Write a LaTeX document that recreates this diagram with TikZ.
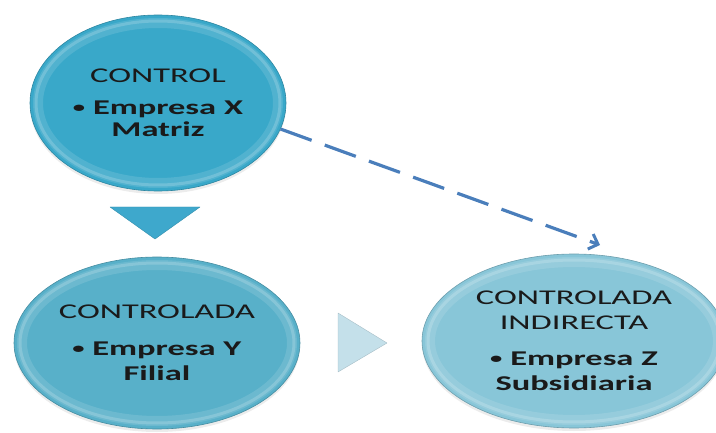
\documentclass[tikz,border=0pt]{standalone}
\usepackage{fontspec}
\setmainfont{Carlito}[FakeStretch=1.64]
\usetikzlibrary{arrows.meta,shadows,calc,shapes.geometric}
\definecolor{cOne}{HTML}{39A8C9}
\definecolor{cTwo}{HTML}{58B0C9}
\definecolor{cThree}{HTML}{88C6D8}
\definecolor{cTriDown}{HTML}{3EA8CC}
\definecolor{cTriRight}{HTML}{C4E0EA}
\definecolor{cArrow}{HTML}{4A7EBB}
\definecolor{cText}{HTML}{1A1A1A}
\newcommand{\bul}{\raisebox{2.5pt}{\fontsize{15}{15}\selectfont•}\ }
\begin{document}
\begin{tikzpicture}[x=1pt,y=-1pt,
  blob/.style={ellipse, inner sep=0pt, align=center, text=cText,
    font=\fontsize{21}{25}\selectfont, fill=#1, draw=#1!80!black, line width=0.6pt,
    drop shadow={shadow xshift=0pt, shadow yshift=-3pt, opacity=.15},
    path picture={
      \draw[line width=10pt, white, opacity=.12]
      let \p1=(path picture bounding box.north east), \p2=(path picture bounding box.center)
      in (\p2) ellipse ({\x1-\x2-8pt} and {\y1-\y2-8pt});
      \draw[line width=3pt, white, opacity=.18]
      let \p1=(path picture bounding box.north east), \p2=(path picture bounding box.center)
      in (\p2) ellipse ({\x1-\x2-6pt} and {\y1-\y2-6pt});}},
  tri/.style={fill=#1, draw=#1!85!black, line width=0.4pt, line join=round},
  dasharrow/.style={draw=cArrow, line width=3.2pt, dash pattern=on 33pt off 14pt,
    -{Straight Barb[length=8pt,width=16pt,line width=3pt]}}
]
\useasboundingbox (0,0) rectangle (716,433);

\node[blob=cOne, minimum width=256pt, minimum height=176pt] (e1) at (158,103)
  {CONTROL\\[7pt]\textbf{\bul Empresa X}\\[-3pt]\textbf{Matriz}};
\node[blob=cTwo, minimum width=286pt, minimum height=172pt] (e2) at (157,343)
  {CONTROLADA\\[12pt]\textbf{\bul Empresa Y}\\\textbf{Filial}};
\node[blob=cThree, minimum width=304pt, minimum height=174pt] (e3) at (574,341)
  {CONTROLADA\\INDIRECTA\\[11pt]\textbf{\bul Empresa Z}\\\textbf{Subsidiaria}};

% down triangle
\path[tri=cTriDown] (110,207) -- (200,207) -- (155,239) -- cycle;
% right triangle
\path[tri=cTriRight] (338,313) -- (387,343) -- (338,372) -- cycle;

\coordinate (tip) at (600,245);
\draw[dasharrow] (e1.-12) -- (tip);
\end{tikzpicture}
\end{document}
